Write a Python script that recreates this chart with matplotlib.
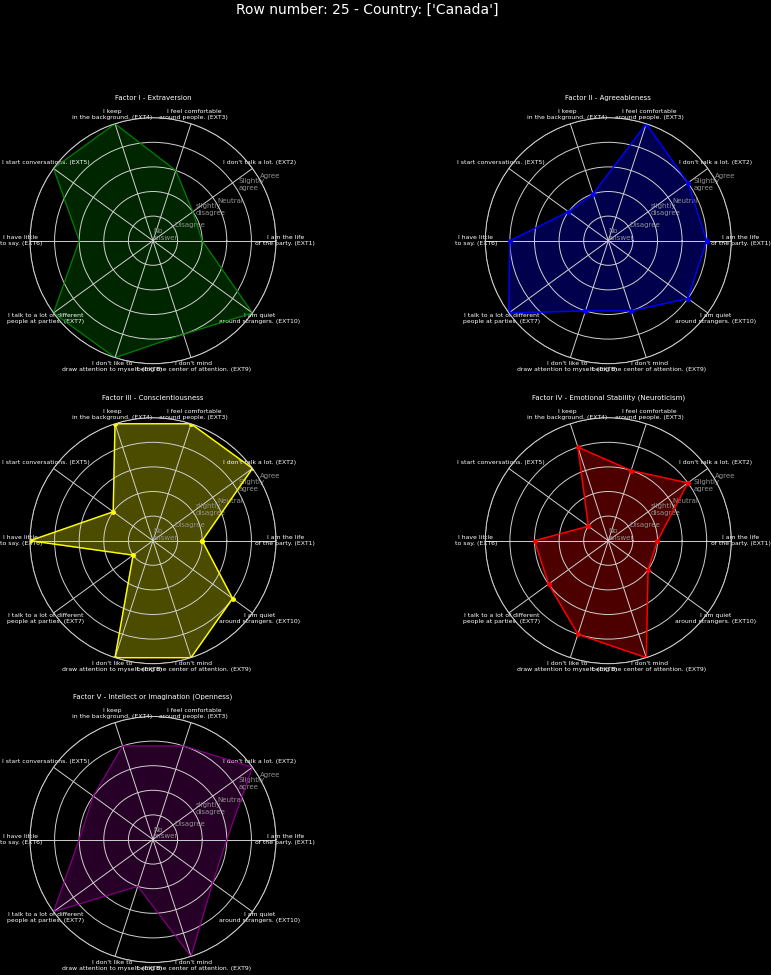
import numpy as np
import matplotlib
matplotlib.use("Agg")
import matplotlib.pyplot as plt

plt.style.use("dark_background")

questions = [
    "I am the life\nof the party. (EXT1)",
    "I don't talk a lot. (EXT2)",
    "I feel comfortable\naround people. (EXT3)",
    "I keep\nin the background. (EXT4)",
    "I start conversations. (EXT5)",
    "I have little\nto say. (EXT6)",
    "I talk to a lot of different\npeople at parties. (EXT7)",
    "I don't like to\ndraw attention to myself. (EXT8)",
    "I don't mind\nbeing the center of attention. (EXT9)",
    "I am quiet\naround strangers. (EXT10)",
]
answer_labels = ["No\nanswer", "Disagree", "slightly\ndisagree", "Neutral", "Slightly\nagree", "Agree"]

titles = [
    "Factor I - Extraversion",
    "Factor II - Agreeableness",
    "Factor III - Conscientiousness",
    "Factor IV - Emotional Stability (Neuroticism)",
    "Factor V - Intellect or Imagination (Openness)",
]
ext_values = [2, 2, 3, 5, 5, 3, 5, 5, 4, 5]
agr_values = [4, 4, 5, 2, 2, 4, 5, 3, 3, 4]
csn_values = [2, 5, 5, 5, 2, 5, 1, 5, 5, 4]
est_values = [2, 4, 3, 4, 1, 3, 3, 4, 5, 2]
opn_values = [3, 5, 4, 4, 3, 3, 5, 2, 5, 3]
colors = ["green", "blue", "yellow", "red", "purple"]
markers = [False, True, True, True, False]

all_values = [ext_values, agr_values, csn_values, est_values, opn_values]

W, H = 771, 975
fig = plt.figure(figsize=(W / 100, H / 100), dpi=100, facecolor="black")
fig.suptitle("Row number: 25 - Country: ['Canada']", fontsize=10, x=0.476, y=0.997, color="white")

R = 123
centers = [(153, 240.7), (608.3, 240.7), (153, 540.7), (608.3, 540.7), (153, 839.5)]

n = len(questions)
angles = np.linspace(0, 2 * np.pi, n, endpoint=False)

for i, (vals, title, col, mk) in enumerate(zip(all_values, titles, colors, markers)):
    cx, cy = centers[i]
    ax = fig.add_axes([(cx - R) / W, 1 - (cy + R) / H, 2 * R / W, 2 * R / H], projection="polar")
    ax.set_facecolor("black")
    th = np.concatenate([angles, angles[:1]])
    v = np.array(vals + vals[:1], dtype=float)
    if mk:
        ax.plot(th, v, color=col, linewidth=1.0, marker="o", markersize=2.5)
    else:
        ax.plot(th, v, color=col, linewidth=0.8)
    ax.fill(th, v, color=col, alpha=0.3)
    ax.set_ylim(0, 5)
    ax.set_rlabel_position(30)
    ax.set_yticks(range(6))
    ax.set_yticklabels(answer_labels, fontsize=5, color="#909090")
    ax.set_xticks(angles)
    ax.set_xticklabels(questions, fontsize=4.45)
    ax.tick_params(axis="x", pad=-3.8)
    ax.grid(color="#d0d0d0", linewidth=0.7)
    ax.spines["polar"].set_color("#d0d0d0")
    ax.spines["polar"].set_linewidth(0.7)
    ax.set_title(title, fontsize=5, color="white", y=1.072, pad=0)

fig.savefig("out.png", dpi=100, facecolor="black")
